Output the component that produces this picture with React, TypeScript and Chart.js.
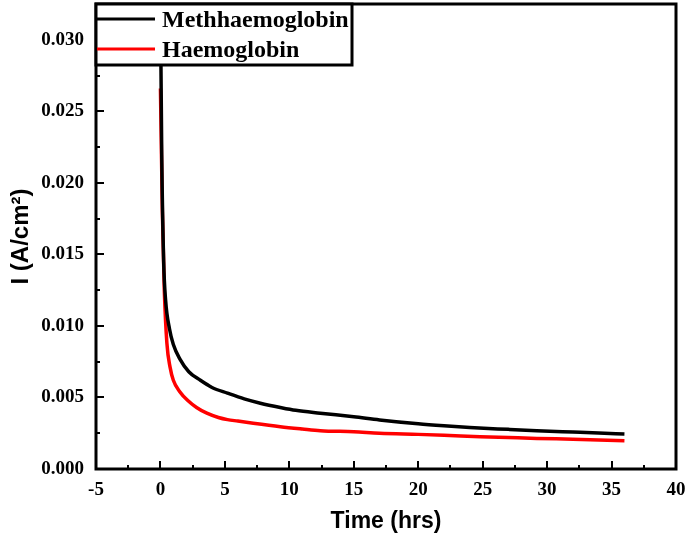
import React, { useEffect, useRef } from "react";
import { Chart, registerables } from "chart.js";

Chart.register(...registerables);

const seriesNames = ["Methhaemoglobin", "Haemoglobin"];
const seriesColors = ["#000000", "#ff0000"];

const methTime = [0, 0.1, 0.25, 0.4, 0.7, 1.0, 1.5, 2.2, 3.1, 4.0, 5.2, 6.5, 7.75, 9.3, 10.5, 12.4, 15, 17, 20, 22, 24, 27, 29.2, 32, 34, 36];
const methCurrent = [0.0325, 0.022, 0.0145, 0.0118, 0.0098, 0.0087, 0.0077, 0.0068, 0.0062, 0.0057, 0.0053, 0.0049, 0.0046, 0.0043, 0.0041, 0.0039, 0.00365, 0.00343, 0.00316, 0.00302, 0.0029, 0.00277, 0.00268, 0.00258, 0.00251, 0.00245];

const haemTime = [0, 0.15, 0.3, 0.5, 0.75, 1.0, 1.5, 2.1, 2.8, 3.6, 4.5, 5.2, 6.0, 7.2, 9.3, 11, 12.4, 15, 17, 20, 22, 24.8, 27, 29.2, 32, 34, 36];
const haemCurrent = [0.0266, 0.018, 0.0125, 0.0088, 0.0071, 0.0062, 0.0054, 0.0048, 0.0043, 0.0039, 0.0036, 0.00345, 0.00335, 0.0032, 0.00296, 0.0028, 0.00268, 0.0026, 0.0025, 0.00242, 0.00236, 0.00226, 0.0022, 0.00214, 0.00208, 0.00203, 0.00198];

const xTitle = "Time (hrs)";
const yTitle = "I (A/cm\u00B2)";

const decorPlugin = {
  id: "decor",
  afterDraw(chart: any) {
    const ctx = chart.ctx as CanvasRenderingContext2D;
    const { left, right, top, bottom } = chart.chartArea;
    const xs = chart.scales.x;
    const ys = chart.scales.y;
    ctx.save();
    ctx.strokeStyle = "#000";
    ctx.lineCap = "butt";
    const seg = (x1: number, y1: number, x2: number, y2: number) => {
      ctx.beginPath();
      ctx.moveTo(x1, y1);
      ctx.lineTo(x2, y2);
      ctx.stroke();
    };
    const xv = xs.ticks.map((t: any) => t.value);
    ctx.lineWidth = 2;
    xv.forEach((v: number, i: number) => {
      const px = Math.round(xs.getPixelForValue(v));
      seg(px, bottom, px, bottom - 8);
      if (i < xv.length - 1) {
        const pm = Math.round(xs.getPixelForValue((v + xv[i + 1]) / 2));
        seg(pm, bottom, pm, bottom - 4);
      }
    });
    const yv = ys.ticks.map((t: any) => t.value);
    yv.forEach((v: number, i: number) => {
      const py = Math.round(ys.getPixelForValue(v));
      seg(left, py, left + 8, py);
      const nxt = i < yv.length - 1 ? yv[i + 1] : v + (v - (yv[i - 1] ?? 0));
      const vm = (v + nxt) / 2;
      if (vm <= ys.max) {
        const pm = Math.round(ys.getPixelForValue(vm));
        seg(left, pm, left + 4, pm);
      }
    });
    ctx.lineWidth = 3;
    ctx.strokeRect(left, top, right - left, bottom - top);

    const lx = left, ly = top, lw = 256, lh = 61;
    ctx.fillStyle = "#fff";
    ctx.fillRect(lx, ly, lw, lh);
    ctx.lineWidth = 3;
    ctx.strokeRect(lx, ly, lw, lh);
    ctx.font = "bold 24px 'Liberation Serif', 'Times New Roman', serif";
    ctx.textBaseline = "alphabetic";
    ctx.textAlign = "left";
    const rows = [15, 45];
    seriesNames.forEach((name, i) => {
      ctx.strokeStyle = seriesColors[i];
      ctx.lineWidth = 3;
      seg(lx + 1, ly + rows[i], lx + 59, ly + rows[i]);
      ctx.fillStyle = "#000";
      ctx.fillText(name, lx + 66, ly + rows[i] + 8);
    });
    ctx.restore();
  },
};

const zeroPad = (s: any) => {
  s.paddingTop = 0;
  s.paddingBottom = 0;
  s.paddingLeft = 0;
  s.paddingRight = 0;
};

export default function App() {
  const ref = useRef<HTMLCanvasElement | null>(null);
  useEffect(() => {
    document.body.style.margin = "0";
    if (!ref.current) return;
    const tickFont = { family: "'Liberation Serif', 'Times New Roman', serif", size: 19, weight: "bold" as const };
    const titleFont = { family: "'Liberation Sans', Arial, sans-serif", size: 23, weight: "bold" as const };
    const chart = new Chart(ref.current, {
      type: "line",
      data: {
        datasets: [
          {
            label: seriesNames[0],
            data: methTime.map((t, i) => ({ x: t, y: methCurrent[i] })),
            borderColor: seriesColors[0],
            borderWidth: 3.5,
            pointRadius: 0,
            cubicInterpolationMode: "monotone",
          },
          {
            label: seriesNames[1],
            data: haemTime.map((t, i) => ({ x: t, y: haemCurrent[i] })),
            borderColor: seriesColors[1],
            borderWidth: 3.5,
            pointRadius: 0,
            cubicInterpolationMode: "monotone",
          },
        ],
      },
      options: {
        responsive: false,
        animation: false,
        layout: { padding: { top: 4, right: 9, left: 0, bottom: 0 } },
        plugins: { legend: { display: false }, tooltip: { enabled: false } },
        scales: {
          x: {
            type: "linear",
            min: -5,
            max: 40,
            border: { display: false },
            grid: { display: false, drawTicks: false },
            ticks: { stepSize: 5, color: "#000", font: tickFont, padding: 10, maxRotation: 0 },
            title: { display: true, text: xTitle, color: "#000", font: titleFont, padding: { top: 0, bottom: 4 } },
            afterFit: (s: any) => { s.height = 70; zeroPad(s); },
          },
          y: {
            type: "linear",
            min: 0,
            max: 0.0325,
            border: { display: false },
            grid: { display: false, drawTicks: false },
            ticks: {
              stepSize: 0.005,
              includeBounds: false,
              color: "#000",
              font: tickFont,
              padding: 12,
              callback: (v: any) => Number(v).toFixed(3),
            },
            title: { display: true, text: yTitle, color: "#000", font: { ...titleFont, size: 24 }, padding: { top: 7, bottom: 0 } },
            afterFit: (s: any) => { s.width = 96; zeroPad(s); },
          },
        },
      },
      plugins: [decorPlugin],
    });
    return () => chart.destroy();
  }, []);
  return (
    <div style={{ width: 685, height: 539 }}>
      <canvas ref={ref} width={685} height={539} />
    </div>
  );
}
